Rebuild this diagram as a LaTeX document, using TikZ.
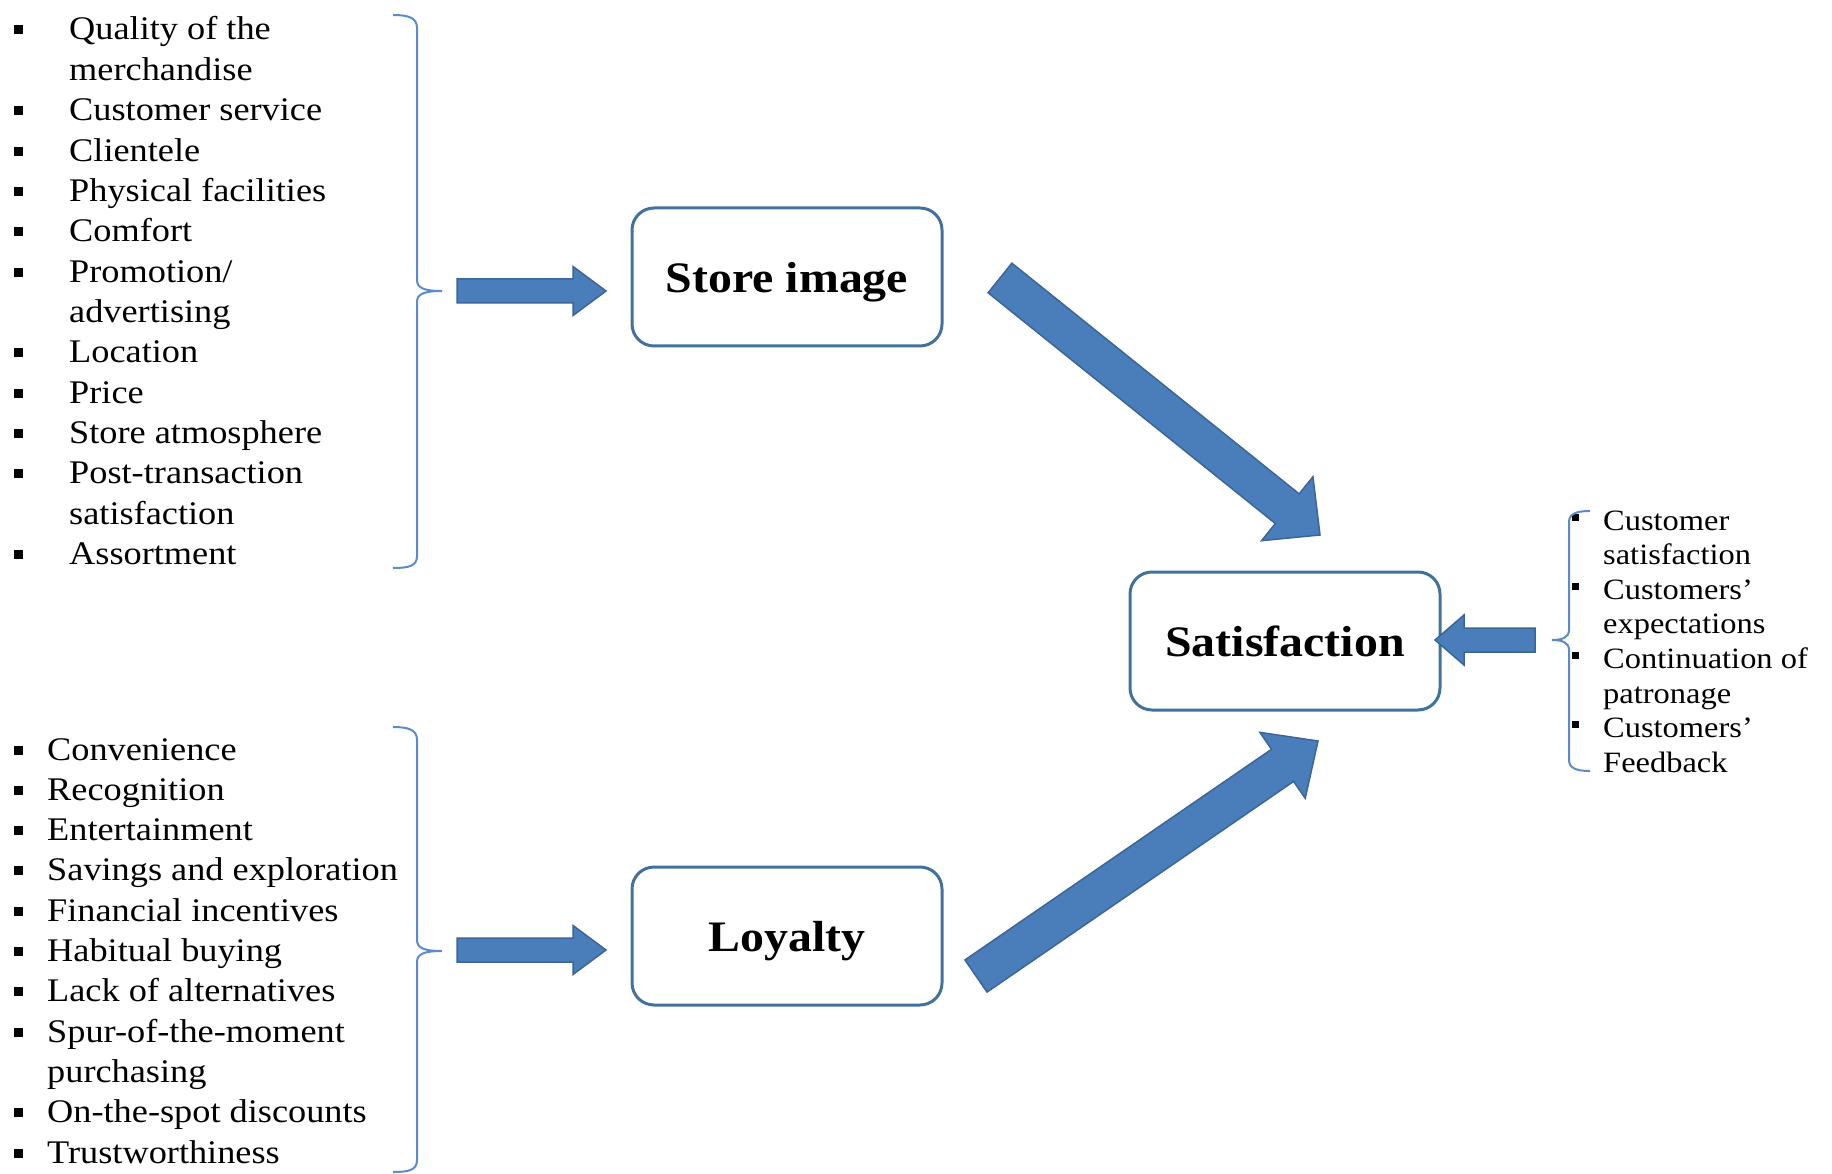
\documentclass[tikz,border=0pt]{standalone}
\usepackage{fontspec}
\setmainfont{Liberation Serif}[FakeStretch=1.1]
\usetikzlibrary{calc}
\definecolor{arrowfill}{HTML}{4A7EBB}
\definecolor{arrowline}{HTML}{3B6597}
\definecolor{boxline}{HTML}{41719C}
\definecolor{bracecol}{HTML}{5B8BC9}
\newcommand\blockarrow[5]{% tail, tip, shaft half width, head half width, head length
  \path ($(#2)!#5!(#1)$) coordinate (ba-base);
  \filldraw[blockarr] ($(#1)!#3!90:(#2)$) -- ($(ba-base)!#3!90:(#2)$) -- ($(ba-base)!#4!90:(#2)$)
    -- (#2) -- ($(ba-base)!#4!-90:(#2)$) -- ($(ba-base)!#3!-90:(#2)$) -- ($(#1)!#3!-90:(#2)$) -- cycle;
}
\begin{document}
\begin{tikzpicture}[x=1pt,y=-1pt,
 listtext/.style={anchor=base west, inner sep=0pt, font=\fontsize{33}{40}\selectfont},
 smalltext/.style={anchor=base west, inner sep=0pt, font=\fontsize{29.5}{34}\selectfont},
 bulletsq/.style={fill=black, minimum size=9pt, inner sep=0pt},
 smallbullet/.style={fill=black, minimum size=7pt, inner sep=0pt},
 mainbox/.style={draw=boxline, line width=3pt, rounded corners=22pt, minimum width=310pt, minimum height=138pt, font=\fontsize{43.5}{50}\selectfont\bfseries, text height=31pt, text depth=0pt, inner sep=0pt},
 blockarr/.style={fill=arrowfill, draw=arrowline, line width=1.5pt, line join=miter},
 bracestyle/.style={draw=bracecol, line width=2pt}
]
\useasboundingbox (0,0) rectangle (1832,1174);

% ---- top list ----
\node[listtext] (t0) at (69,40) {Quality of the};
\node[listtext] (t1) at (69,80.4) {merchandise};
\node[listtext] (t2) at (69,120.7) {Customer service};
\node[listtext] (t3) at (69,161.1) {Clientele};
\node[listtext] (t4) at (69,201.4) {Physical facilities};
\node[listtext] (t5) at (69,241.8) {Comfort};
\node[listtext] (t6) at (69,282.1) {Promotion/};
\node[listtext] (t7) at (69,322.5) {advertising};
\node[listtext] (t8) at (69,362.8) {Location};
\node[listtext] (t9) at (69,403.2) {Price};
\node[listtext] (t10) at (69,443.5) {Store atmosphere};
\node[listtext] (t11) at (69,483.9) {Post-transaction};
\node[listtext] (t12) at (69,524.2) {satisfaction};
\node[listtext] (t13) at (69,564.6) {Assortment};
\foreach \y [count=\i] in {40,120.7,161.1,201.4,241.8,282.1,362.8,403.2,443.5,483.9,564.6}
  \node[bulletsq] (tb\i) at (18,\y-10) {};

% ---- bottom list ----
\node[listtext] (b0) at (47,760) {Convenience};
\node[listtext] (b1) at (47,800.3) {Recognition};
\node[listtext] (b2) at (47,840.6) {Entertainment};
\node[listtext] (b3) at (47,880.9) {Savings and exploration};
\node[listtext] (b4) at (47,921.2) {Financial incentives};
\node[listtext] (b5) at (47,961.5) {Habitual buying};
\node[listtext] (b6) at (47,1001.8) {Lack of alternatives};
\node[listtext] (b7) at (47,1042.1) {Spur-of-the-moment};
\node[listtext] (b8) at (47,1082.4) {purchasing};
\node[listtext] (b9) at (47,1122.7) {On-the-spot discounts};
\node[listtext] (b10) at (47,1163) {Trustworthiness};
\foreach \y [count=\i] in {760,800.3,840.6,880.9,921.2,961.5,1001.8,1042.1,1122.7,1163}
  \node[bulletsq] (bb\i) at (18,\y-10) {};

% ---- right list ----
\node[smalltext] (r0) at (1603,530) {Customer};
\node[smalltext] (r1) at (1603,564.6) {satisfaction};
\node[smalltext] (r2) at (1603,599.2) {Customers’};
\node[smalltext] (r3) at (1603,633.8) {expectations};
\node[smalltext] (r4) at (1603,668.4) {Continuation of};
\node[smalltext] (r5) at (1603,703) {patronage};
\node[smalltext] (r6) at (1603,737.6) {Customers’};
\node[smalltext] (r7) at (1603,772.2) {Feedback};
\foreach \y [count=\i] in {530,599.2,668.4,737.6}
  \node[smallbullet] (rb\i) at (1575,\y-13) {};

% ---- braces ----
\draw[bracestyle] (393,15) .. controls (409,15) and (417,18) .. (417,28) -- (417,280)
  .. controls (417,288) and (424,291) .. (442,291)
  .. controls (424,291) and (417,294) .. (417,302) -- (417,556)
  .. controls (417,566) and (409,568) .. (393,568);
\draw[bracestyle] (393,727) .. controls (409,727) and (417,730) .. (417,740) -- (417,940)
  .. controls (417,948) and (424,951) .. (442,951)
  .. controls (424,951) and (417,954) .. (417,962) -- (417,1160)
  .. controls (417,1170) and (409,1172) .. (393,1172);
\draw[bracestyle] (1590,511) .. controls (1576,511) and (1569,514) .. (1569,522) -- (1569,630)
  .. controls (1569,637) and (1563,640) .. (1552,640)
  .. controls (1563,640) and (1569,643) .. (1569,650) -- (1569,760)
  .. controls (1569,768) and (1576,771) .. (1590,771);

% ---- boxes ----
\node[mainbox] (store) at (787,277) {Store image};
\node[mainbox] (sat) at (1285,641) {Satisfaction};
\node[mainbox] (loy) at (787,936) {Loyalty};

% ---- arrows ----
\coordinate (a1t) at (457,291); \coordinate (a1h) at (606,291);
\coordinate (a2t) at (457,950); \coordinate (a2h) at (606,950);
\coordinate (a3t) at (1535,640); \coordinate (a3h) at (1435,640);
\coordinate (a4t) at (1000,278); \coordinate (a4h) at (1320,535);
\coordinate (a5t) at (976,976); \coordinate (a5h) at (1318,741);
\blockarrow{a1t}{a1h}{12pt}{24.5pt}{33pt}
\blockarrow{a2t}{a2h}{12pt}{24.5pt}{33pt}
\blockarrow{a3t}{a3h}{12pt}{25pt}{29pt}
\blockarrow{a4t}{a4h}{19pt}{41pt}{42pt}
\blockarrow{a5t}{a5h}{19.5pt}{40pt}{43pt}
\end{tikzpicture}
\end{document}
